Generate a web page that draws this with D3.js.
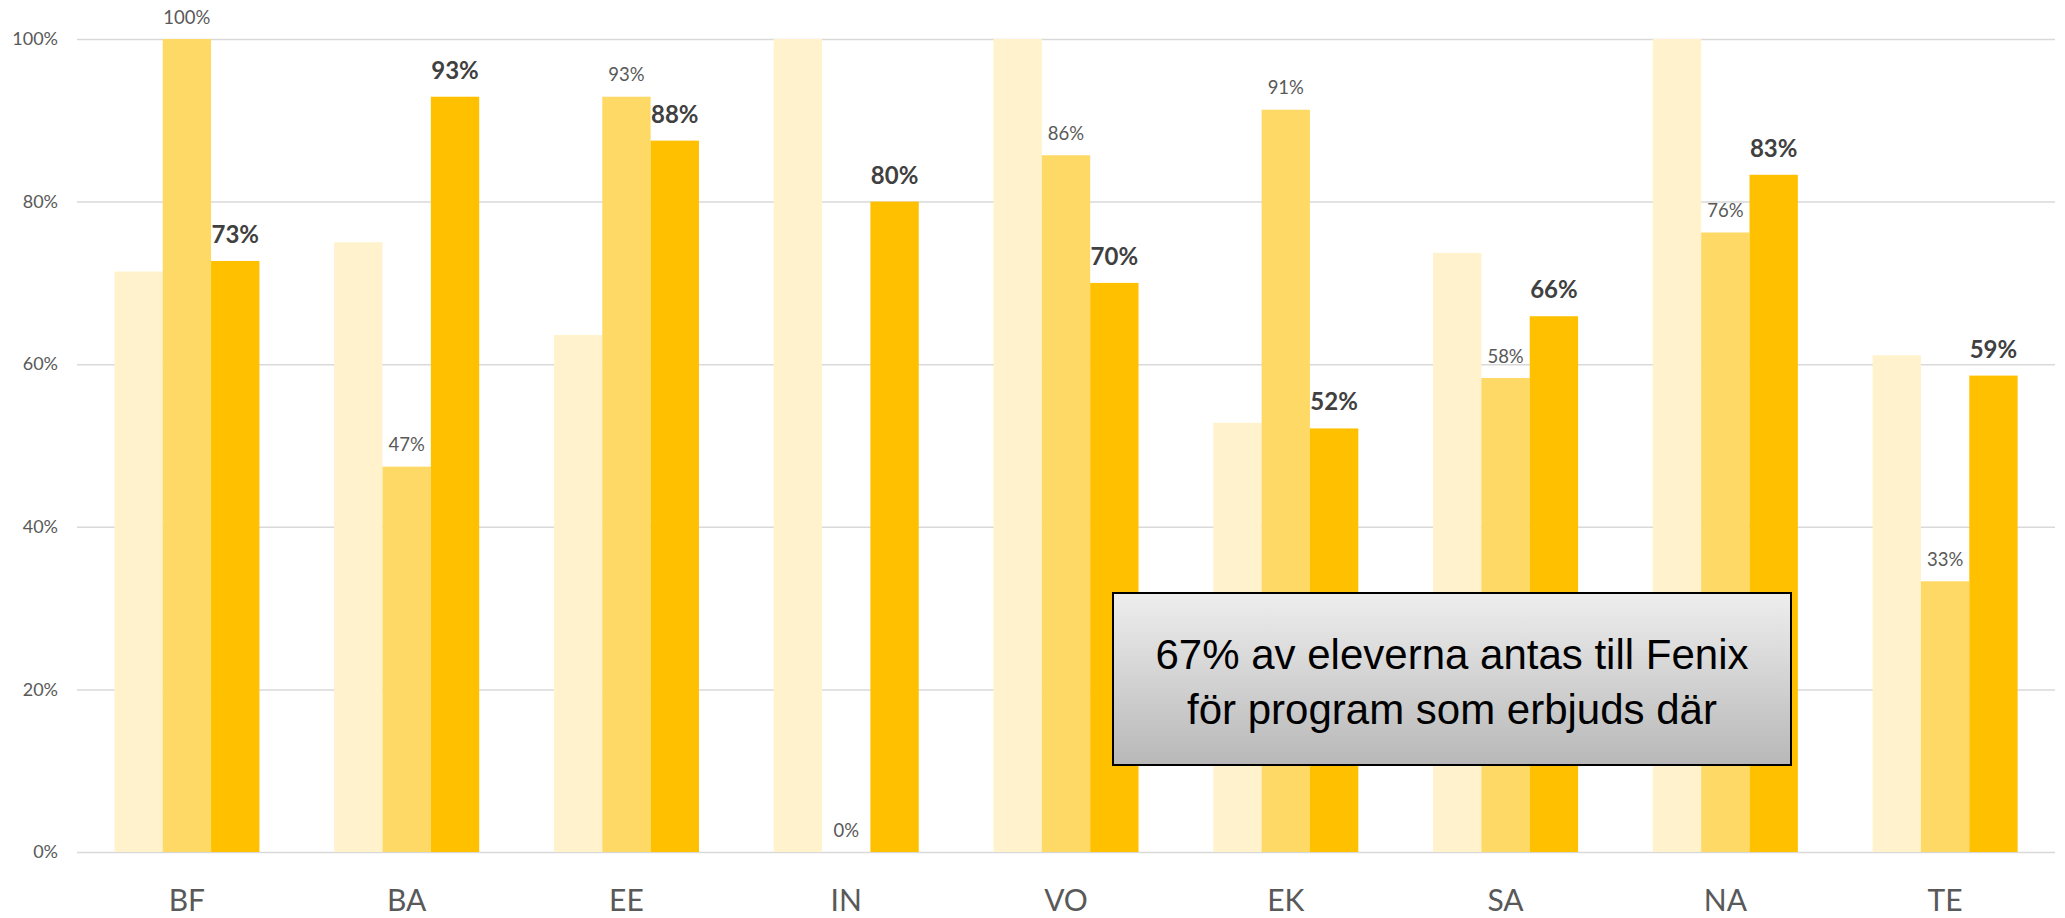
<!DOCTYPE html>
<html>
<head>
<meta charset="utf-8">
<script src="https://cdn.jsdelivr.net/npm/d3@7/dist/d3.min.js"></script>
<style>
html, body { margin: 0; padding: 0; background: #fff; }
svg { display: block; }
</style>
</head>
<body>
<svg id="chart" width="2065" height="918"></svg>
<script>
const categories = ["BF", "BA", "EE", "IN", "VO", "EK", "SA", "NA", "TE"];
const series1 = [71.4, 75.0, 63.6, 100, 100, 52.8, 73.7, 100, 61.1];
const series2 = [100, 47.4, 92.9, 0, 85.7, 91.3, 58.3, 76.2, 33.3];
const series3 = [72.7, 92.9, 87.5, 80, 70.0, 52.1, 65.9, 83.3, 58.6];
const yTicks = [0, 20, 40, 60, 80, 100];
const boxLines = ["67% av eleverna antas till Fenix", "för program som erbjuds där"];

const seriesList = [
  { key: "s1", values: series1, color: "#FFF2CC", label: null },
  { key: "s2", values: series2, color: "#FFD966", label: "small" },
  { key: "s3", values: series3, color: "#FFC000", label: "bold" }
];

const svg = d3.select("#chart");
const plotLeft = 77, plotRight = 2055, plotTop = 39, plotBottom = 852;

const x0 = d3.scaleBand().domain(categories).range([plotLeft, plotRight]).paddingInner(0.34).paddingOuter(0.17);
const x1 = d3.scaleBand().domain(seriesList.map(s => s.key)).range([0, x0.bandwidth()]).padding(0);
const y = d3.scaleLinear().domain([0, 100]).range([plotBottom, plotTop]);

// gridlines
const yAxis = d3.axisLeft(y).tickValues(yTicks).tickSize(-(plotRight - plotLeft)).tickFormat(d => d + "%").tickPadding(19);
const gy = svg.append("g").attr("transform", `translate(${plotLeft},0)`).call(yAxis);
gy.select(".domain").remove();
gy.selectAll(".tick line").attr("stroke", "#d9d9d9").attr("stroke-width", 1.5);
gy.selectAll(".tick text").attr("fill", "#595959").attr("font-family", "Lato, 'Open Sans', sans-serif").attr("font-size", 18);

// bars
const groups = svg.append("g").selectAll("g").data(categories).join("g")
  .attr("transform", d => `translate(${x0(d)},0)`);

seriesList.forEach(s => {
  groups.append("rect")
    .attr("x", x1(s.key))
    .attr("width", x1.bandwidth())
    .attr("y", (d, i) => y(s.values[i]))
    .attr("height", (d, i) => y(0) - y(s.values[i]))
    .attr("fill", s.color);
});

// labels
seriesList.filter(s => s.label).forEach(s => {
  groups.append("text")
    .attr("x", x1(s.key) + x1.bandwidth() / 2)
    .attr("y", (d, i) => y(s.values[i]) - (s.label === "bold" ? 18 : 15.5))
    .attr("text-anchor", "middle")
    .attr("font-family", "Lato, 'Open Sans', sans-serif")
    .attr("font-size", s.label === "bold" ? 24 : 18.5)
    .attr("font-weight", s.label === "bold" ? 700 : 400)
    .attr("fill", s.label === "bold" ? "#404040" : "#595959")
    .text((d, i) => Math.round(s.values[i]) + "%");
});

// x axis labels
const xAxis = d3.axisBottom(x0).tickSize(0).tickPadding(38);
const gx = svg.append("g").attr("transform", `translate(0,${plotBottom})`).call(xAxis);
gx.select(".domain").remove();
gx.selectAll(".tick text").attr("fill", "#595959").attr("font-family", "Lato, 'Open Sans', sans-serif").attr("font-size", 30);

// annotation box
const defs = svg.append("defs");
const grad = defs.append("linearGradient").attr("id", "boxGrad").attr("x1", 0).attr("y1", 0).attr("x2", 0).attr("y2", 1);
grad.append("stop").attr("offset", "0%").attr("stop-color", "#eeeeee");
grad.append("stop").attr("offset", "100%").attr("stop-color", "#b8b8b8");

const bx = 1113, by = 593, bw = 678, bh = 172;
svg.append("rect").attr("x", bx).attr("y", by).attr("width", bw).attr("height", bh)
  .attr("fill", "url(#boxGrad)").attr("stroke", "#000").attr("stroke-width", 2);
svg.append("g").selectAll("text").data(boxLines).join("text")
  .attr("x", bx + bw / 2)
  .attr("y", (d, i) => 669 + i * 55)
  .attr("text-anchor", "middle")
  .attr("font-family", "'Liberation Sans', Arial, sans-serif")
  .attr("font-size", 42)
  .attr("fill", "#000")
  .text(d => d);
</script>
</body>
</html>
